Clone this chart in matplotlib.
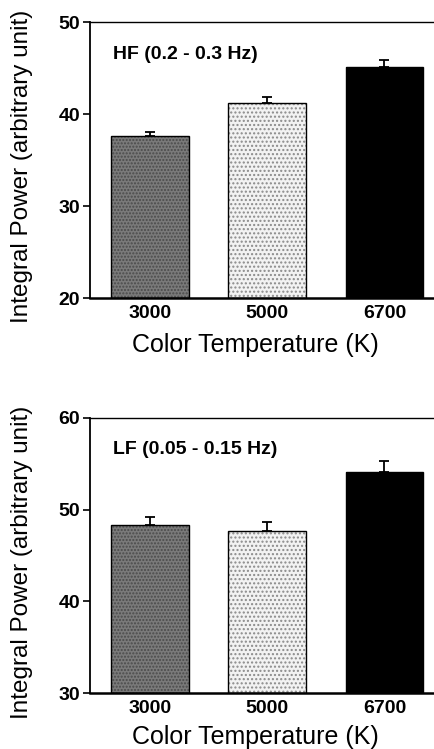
import matplotlib
matplotlib.use("Agg")
import matplotlib.pyplot as plt
import numpy as np

categories = ["3000", "5000", "6700"]
hf_means = [37.6, 41.2, 45.1]
hf_err = [0.5, 0.65, 0.8]
lf_means = [48.3, 47.7, 54.1]
lf_err = [0.9, 0.9, 1.2]
hf_yticks = [20, 30, 40, 50]
lf_yticks = [30, 40, 50, 60]

plt.rcParams['font.family'] = ['Liberation Sans', 'DejaVu Sans']

W, H = 434, 749
fig = plt.figure(figsize=(W / 100, H / 100), dpi=100)

faces = ['#7a7a7a', '#f2f2f2', '#000000']
hatch_cols = ['#4a4a4a', '#8a8a8a', '#000000']
hatches = ['.....', '....', None]

def panel(rect, means, errs, yticks, label, ylab_y, xlab_y):
    ax = fig.add_axes(rect)
    x = np.arange(len(categories))
    w = 0.66
    for i in range(len(categories)):
        ax.bar(x[i], means[i] - yticks[0], bottom=yticks[0], width=w,
               color=faces[i], edgecolor=hatch_cols[i], hatch=hatches[i],
               linewidth=0, zorder=2)
        ax.bar(x[i], means[i] - yticks[0], bottom=yticks[0], width=w,
               fill=False, edgecolor='black', linewidth=1.0, zorder=3)
    ax.errorbar(x, means, yerr=[np.zeros(len(errs)), errs], fmt='none',
                ecolor='black', elinewidth=1.3, capsize=3.8, capthick=1.3, zorder=4)
    ax.set_xlim(-0.51, 2.45)
    ax.set_ylim(yticks[0], yticks[-1])
    ax.set_yticks(yticks)
    ax.set_xticks(x)
    ax.set_xticklabels(categories, fontsize=14, fontweight='bold')
    ax.tick_params(axis='y', direction='out', length=5, width=1.2,
                   labelsize=14, pad=2)
    for t in ax.get_yticklabels():
        t.set_fontweight('bold')
    ax.tick_params(axis='x', length=0, pad=5)
    ax.spines['right'].set_visible(False)
    ax.spines['left'].set_linewidth(1.3)
    ax.spines['top'].set_linewidth(1.0)
    ax.spines['bottom'].set_linewidth(1.8)
    ax.text(0.066, 0.884, label, transform=ax.transAxes, fontsize=14,
            fontweight='bold', va='center', ha='left')
    fig.text(22 / W, 1 - ylab_y / H, "Integral Power (arbitrary unit)",
             rotation=90, ha='center', va='center', fontsize=17.5)
    fig.text(255 / W, 1 - xlab_y / H, "Color Temperature (K)",
             ha='center', va='baseline', fontsize=18)
    return ax

panel([0.2074, 0.602, 0.80, 0.3685], hf_means, hf_err, hf_yticks,
      "HF (0.2 - 0.3 Hz)", 166, 352)
panel([0.2074, 0.0744, 0.80, 0.368], lf_means, lf_err, lf_yticks,
      "LF (0.05 - 0.15 Hz)", 562, 744)

fig.savefig("out.png", dpi=100)
